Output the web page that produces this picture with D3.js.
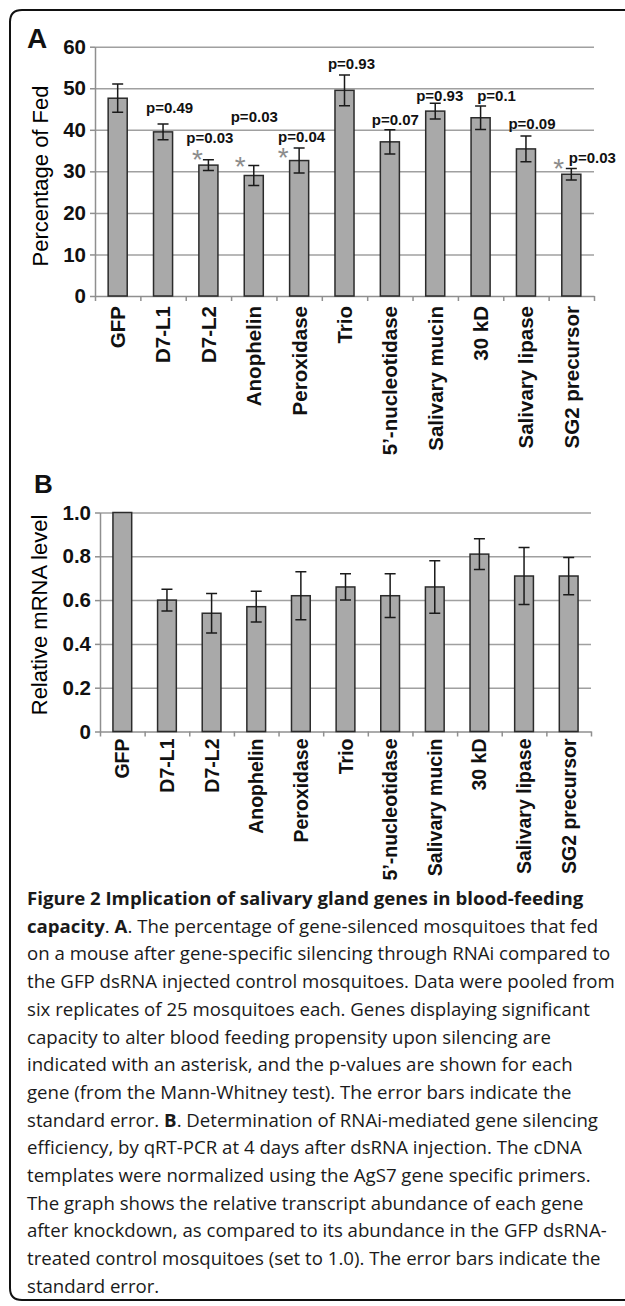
<!DOCTYPE html>
<html>
<head>
<meta charset="utf-8">
<script src="https://cdn.jsdelivr.net/npm/d3@7"></script>
<style>
  body { margin: 0; background: #fff; }
  svg { display: block; }
</style>
</head>
<body>
<svg id="fig" width="625" height="1306"></svg>
<script>
// gene names on the x axis (same for both panels)
var genes = ['GFP', 'D7-L1', 'D7-L2', 'Anophelin', 'Peroxidase', 'Trio',
    '5\u2019-nucleotidase', 'Salivary mucin', '30 kD', 'Salivary lipase', 'SG2 precursor'];

// panel A: percentage fed, standard error, Mann-Whitney p and significance
var fedMean = [47.6, 39.5, 31.5, 29.0, 32.6, 49.5, 37.1, 44.5, 42.9, 35.4, 29.3];
var fedErr = [3.4, 1.9, 1.3, 2.4, 3.0, 3.7, 2.9, 1.9, 2.8, 3.1, 1.4];
var pValues = [null, '0.49', '0.03', '0.03', '0.04', '0.93', '0.07', '0.93', '0.1', '0.09', '0.03'];
var significant = [false, false, true, true, true, false, false, false, false, false, true];
var fedTicks = [0, 10, 20, 30, 40, 50, 60];

// panel B: relative mRNA level and standard error
var mrnaMean = [1.0, 0.60, 0.54, 0.57, 0.62, 0.66, 0.62, 0.66, 0.81, 0.71, 0.71];
var mrnaErr = [0, 0.05, 0.09, 0.07, 0.11, 0.06, 0.10, 0.12, 0.07, 0.13, 0.085];
var mrnaTicks = [0, 0.2, 0.4, 0.6, 0.8, 1.0];

// caption lines, **bold** parts marked
var captionLines = [
    '**Figure 2 Implication of salivary gland genes in blood-feeding**',
    '**capacity**. **A**. The percentage of gene-silenced mosquitoes that fed',
    'on a mouse after gene-specific silencing through RNAi compared to',
    'the GFP dsRNA injected control mosquitoes. Data were pooled from',
    'six replicates of 25 mosquitoes each. Genes displaying significant',
    'capacity to alter blood feeding propensity upon silencing are',
    'indicated with an asterisk, and the p-values are shown for each',
    'gene (from the Mann-Whitney test). The error bars indicate the',
    'standard error. **B**. Determination of RNAi-mediated gene silencing',
    'efficiency, by qRT-PCR at 4 days after dsRNA injection. The cDNA',
    'templates were normalized using the AgS7 gene specific primers.',
    'The graph shows the relative transcript abundance of each gene',
    'after knockdown, as compared to its abundance in the GFP dsRNA-',
    'treated control mosquitoes (set to 1.0). The error bars indicate the',
    'standard error.'
];

// hand placement of the annotations, in px relative to the error bar top
var pGap = [0, 11, 17, 44, 6.5, 5.5, 5, 2.5, 5, 7.5, 5];
var pShift = [0, 6.5, 1.5, 0.5, 2.5, 7, 5.5, 4.5, 16, 6, -2.5];
var starDx = [0, 0, -11, -13.5, -16, 0, 0, 0, 0, 0, -12.5];
var starDy = [0, 0, -6, -5, 3.5, 0, 0, 0, 0, 0, -6];

var svg = d3.select('#fig');
var chartFont = '"Liberation Sans", Arial, sans-serif';

// frame round the figure (open on the right)
svg.append('path')
    .attr('d', 'M625,10 H22 Q10,10 10,22 V1288 Q10,1300 22,1300 H625')
    .attr('fill', 'none').attr('stroke', '#111').attr('stroke-width', 2);

function drawPanel(cfg) {
    var g = svg.append('g').style('font-family', chartFont);

    var x = d3.scaleBand().domain(genes).range([cfg.left, cfg.right])
        .paddingInner(0.58).paddingOuter(0.29);
    var xEdge = d3.scaleLinear().domain([0, genes.length]).range([cfg.left, cfg.right]);
    var y = d3.scaleLinear().domain([0, cfg.max]).range([cfg.bottom, cfg.top]);
    var cx = function(i) { return x(genes[i]) + x.bandwidth() / 2; };

    // gridlines
    g.append('g').attr('transform', 'translate(' + cfg.left + ',0)')
        .call(d3.axisLeft(y).tickValues(cfg.ticks.slice(1))
            .tickSize(-(cfg.right - cfg.left)).tickFormat(''))
        .call(function(s) { s.select('.domain').remove(); })
        .selectAll('line').attr('stroke', '#a0a0a0').attr('stroke-width', 1.5);

    // y axis
    var ya = g.append('g').attr('transform', 'translate(' + cfg.left + ',0)')
        .call(d3.axisLeft(y).tickValues(cfg.ticks).tickSize(5).tickSizeOuter(0)
            .tickPadding(4).tickFormat(cfg.fmt));
    ya.select('.domain').attr('stroke', '#8f8f8f').attr('stroke-width', 1.5);
    ya.selectAll('line').attr('stroke', '#8f8f8f').attr('stroke-width', 1.5);
    ya.selectAll('text').attr('font-size', 20.5).attr('font-weight', 'bold')
        .attr('fill', '#111').style('font-family', chartFont);

    // x axis with tick marks between the bars
    var xa = g.append('g').attr('transform', 'translate(0,' + cfg.bottom + ')')
        .call(d3.axisBottom(xEdge).tickValues(d3.range(genes.length + 1))
            .tickSize(5).tickSizeOuter(0).tickFormat(''));
    xa.select('.domain').attr('stroke', '#8f8f8f').attr('stroke-width', 1.5);
    xa.selectAll('line').attr('stroke', '#8f8f8f').attr('stroke-width', 1.5);

    // bars
    g.selectAll('rect.bar').data(cfg.mean).join('rect')
        .attr('class', 'bar')
        .attr('x', function(d, i) { return x(genes[i]); })
        .attr('width', x.bandwidth())
        .attr('y', function(d) { return y(d); })
        .attr('height', function(d) { return cfg.bottom - y(d); })
        .attr('fill', '#a9a9a9').attr('stroke', '#2b2b2b').attr('stroke-width', 1.5);

    // error bars
    cfg.mean.forEach(function(m, i) {
        var e = cfg.err[i];
        if (!e) return;
        var c = cx(i), y1 = y(m + e), y2 = y(m - e), w = 5.5;
        var p = 'M' + c + ',' + y1 + 'V' + y2 +
            'M' + (c - w) + ',' + y1 + 'H' + (c + w) +
            'M' + (c - w) + ',' + y2 + 'H' + (c + w);
        g.append('path').attr('d', p).attr('fill', 'none')
            .attr('stroke', '#1a1a1a').attr('stroke-width', 1.5);
    });

    // category labels
    g.selectAll('text.xl').data(genes).join('text')
        .attr('class', 'xl')
        .attr('transform', function(d) {
            return 'translate(' + (x(d) + x.bandwidth() / 2) + ',' + (cfg.bottom + cfg.labelGap) + ') rotate(-90)';
        })
        .attr('text-anchor', 'end').attr('dy', '0.36em')
        .attr('font-size', cfg.labelSize).attr('font-weight', 'bold').attr('fill', '#111')
        .text(function(d) { return d; });

    // y axis title
    g.append('text')
        .attr('transform', 'translate(' + cfg.titleX + ',' + cfg.titleY + ') rotate(-90)')
        .attr('text-anchor', 'middle').attr('font-size', 22).attr('fill', '#000')
        .text(cfg.title);

    // panel letter
    g.append('text').attr('x', cfg.letterX).attr('y', cfg.letterY)
        .attr('font-size', cfg.letterSize).attr('font-weight', 'bold').attr('fill', '#111')
        .text(cfg.letter);

    return { x: x, y: y, cx: cx, g: g };
}

// Panel A
var A = drawPanel({
    left: 95, right: 594, top: 46.7, bottom: 296, max: 60,
    ticks: fedTicks, fmt: d3.format('d'),
    mean: fedMean, err: fedErr, labelGap: 10, labelSize: 20.5,
    title: 'Percentage of Fed', titleX: 48, titleY: 176,
    letter: 'A', letterX: 27, letterY: 48, letterSize: 28
});

// p-values and asterisks
var starSize = 28;
pValues.forEach(function(p, i) {
    if (!p) return;
    var top = A.y(fedMean[i] + fedErr[i]);
    var last = i === genes.length - 1;
    A.g.append('text')
        .attr('x', A.cx(i) + pShift[i])
        .attr('y', top - pGap[i])
        .attr('text-anchor', last ? 'start' : 'middle')
        .attr('font-size', 15).attr('font-weight', 'bold').attr('fill', '#111')
        .text('p=' + p);
    if (significant[i]) {
        A.g.append('text')
            .attr('x', A.cx(i) + starDx[i])
            .attr('y', top + starDy[i] + 0.56 * starSize)
            .attr('text-anchor', 'middle')
            .attr('font-size', starSize).attr('fill', '#8c8c8c')
            .text('*');
    }
});

// Panel B
drawPanel({
    left: 100, right: 591, top: 512.5, bottom: 731.5, max: 1.0,
    ticks: mrnaTicks, fmt: function(d) { return d === 0 ? '0' : d3.format('.1f')(d); },
    mean: mrnaMean, err: mrnaErr, labelGap: 7, labelSize: 19.5,
    title: 'Relative mRNA level', titleX: 47, titleY: 615,
    letter: 'B', letterX: 34, letterY: 493, letterSize: 26
});

// caption
var cap = svg.append('g')
    .style('font-family', '"Open Sans", "Noto Sans", sans-serif')
    .attr('font-size', 17).attr('fill', '#1a1a1a');
captionLines.forEach(function(line, i) {
    var t = cap.append('text').attr('x', 27).attr('y', 905 + i * 27.7);
    line.split('**').forEach(function(part, k) {
        if (!part) return;
        t.append('tspan').attr('font-weight', k % 2 ? 'bold' : 'normal').text(part);
    });
});
// fit the caption to the width of the reference text block
var ref = cap.selectAll('text').nodes()[2].getComputedTextLength();
cap.attr('font-size', 17 * 584 / ref);
</script>
</body>
</html>
